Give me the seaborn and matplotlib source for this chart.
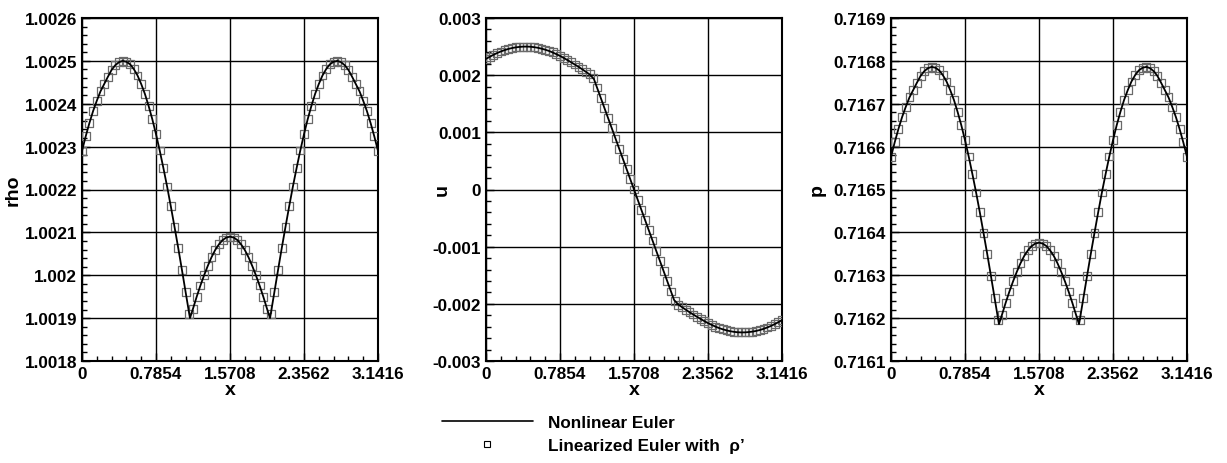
import matplotlib
matplotlib.use('Agg')
import matplotlib.pyplot as plt
import numpy as np
import pandas as pd
import seaborn as sns
from matplotlib.lines import Line2D
from matplotlib.ticker import FixedLocator, AutoMinorLocator, FuncFormatter

sns.set_theme(style='white')
plt.rcParams['font.family'] = ['Liberation Sans', 'DejaVu Sans']
plt.rcParams['font.weight'] = 'bold'
plt.rcParams['axes.labelweight'] = 'bold'
plt.rcParams['axes.unicode_minus'] = False
plt.rcParams['text.color'] = 'black'
plt.rcParams['axes.labelcolor'] = 'black'
plt.rcParams['xtick.color'] = 'black'
plt.rcParams['ytick.color'] = 'black'

# sample positions along x (0 .. pi)
X_MARK = [0.0, 0.03927, 0.07854, 0.11781, 0.15708, 0.19635, 0.23562, 0.27489, 0.31416, 0.35343,
          0.39270, 0.43197, 0.47124, 0.51051, 0.54978, 0.58905, 0.62832, 0.66759, 0.70686, 0.74613,
          0.78540, 0.82467, 0.86394, 0.90321, 0.94248, 0.98175, 1.02102, 1.06029, 1.09956, 1.13883,
          1.17810, 1.21737, 1.25664, 1.29591, 1.33518, 1.37445, 1.41372, 1.45299, 1.49226, 1.53153,
          1.57080, 1.61007, 1.64934, 1.68861, 1.72788, 1.76715, 1.80642, 1.84569, 1.88496, 1.92423,
          1.96350, 2.00277, 2.04204, 2.08131, 2.12058, 2.15984, 2.19911, 2.23838, 2.27765, 2.31692,
          2.35619, 2.39546, 2.43473, 2.47400, 2.51327, 2.55254, 2.59181, 2.63108, 2.67035, 2.70962,
          2.74889, 2.78816, 2.82743, 2.86670, 2.90597, 2.94524, 2.98451, 3.02378, 3.06305, 3.10232,
          3.14159]

RHO_MARK = [1.002290, 1.002324, 1.002355, 1.002383, 1.002407, 1.002429, 1.002446, 1.002463, 1.002479, 1.002490,
            1.002497, 1.002500, 1.002498, 1.002492, 1.002481, 1.002466, 1.002446, 1.002423, 1.002395, 1.002364,
            1.002329, 1.002291, 1.002250, 1.002207, 1.002161, 1.002113, 1.002064, 1.002013, 1.001961, 1.001909,
            1.001922, 1.001950, 1.001976, 1.002000, 1.002022, 1.002042, 1.002059, 1.002072, 1.002082, 1.002088,
            1.002090, 1.002088, 1.002082, 1.002072, 1.002059, 1.002042, 1.002022, 1.002000, 1.001976, 1.001950,
            1.001922, 1.001909, 1.001961, 1.002013, 1.002064, 1.002113, 1.002161, 1.002207, 1.002250, 1.002291,
            1.002329, 1.002364, 1.002395, 1.002423, 1.002446, 1.002466, 1.002481, 1.002492, 1.002498, 1.002500,
            1.002497, 1.002490, 1.002479, 1.002463, 1.002446, 1.002429, 1.002407, 1.002383, 1.002355, 1.002324,
            1.002290]

U_MARK = [0.002285, 0.002321, 0.002356, 0.002387, 0.002414, 0.002438, 0.002458, 0.002474, 0.002486, 0.002494,
          0.002499, 0.002500, 0.002497, 0.002490, 0.002479, 0.002464, 0.002446, 0.002424, 0.002398, 0.002368,
          0.002337, 0.002302, 0.002264, 0.002226, 0.002186, 0.002146, 0.002103, 0.002059, 0.002013, 0.001945,
          0.001784, 0.001606, 0.001427, 0.001249, 0.001071, 0.000892, 0.000714, 0.000535, 0.000357, 0.000178,
          0.0, -0.000178, -0.000357, -0.000535, -0.000714, -0.000892, -0.001071, -0.001249, -0.001427, -0.001606,
          -0.001784, -0.001945, -0.002013, -0.002059, -0.002103, -0.002146, -0.002186, -0.002226, -0.002264, -0.002302,
          -0.002337, -0.002368, -0.002398, -0.002424, -0.002446, -0.002464, -0.002479, -0.002490, -0.002497, -0.002500,
          -0.002499, -0.002494, -0.002486, -0.002474, -0.002458, -0.002438, -0.002414, -0.002387, -0.002356, -0.002321,
          -0.002285]

P_MARK = [0.716576, 0.716610, 0.716641, 0.716669, 0.716693, 0.716715, 0.716732, 0.716749, 0.716765, 0.716776,
          0.716783, 0.716786, 0.716784, 0.716778, 0.716767, 0.716752, 0.716732, 0.716709, 0.716681, 0.716650,
          0.716615, 0.716577, 0.716536, 0.716493, 0.716447, 0.716399, 0.716350, 0.716299, 0.716247, 0.716195,
          0.716208, 0.716236, 0.716262, 0.716286, 0.716308, 0.716328, 0.716345, 0.716358, 0.716368, 0.716374,
          0.716376, 0.716374, 0.716368, 0.716358, 0.716345, 0.716328, 0.716308, 0.716286, 0.716262, 0.716236,
          0.716208, 0.716195, 0.716247, 0.716299, 0.716350, 0.716399, 0.716447, 0.716493, 0.716536, 0.716577,
          0.716615, 0.716650, 0.716681, 0.716709, 0.716732, 0.716752, 0.716767, 0.716778, 0.716784, 0.716786,
          0.716783, 0.716776, 0.716765, 0.716749, 0.716732, 0.716715, 0.716693, 0.716669, 0.716641, 0.716610,
          0.716576]

# kinks of the nonlinear solution
X_CUSP = [1.14600, 1.99559]
RHO_CUSP = [1.001900, 1.001900]
U_CUSP = [0.001930, -0.001930]
P_CUSP = [0.716186, 0.716186]

X_TICKS = [0.0, 0.7854, 1.5708, 2.3562, 3.1416]
X_TICK_LABELS = ['0', '0.7854', '1.5708', '2.3562', '3.1416']
RHO_TICKS = [1.0018, 1.0019, 1.0020, 1.0021, 1.0022, 1.0023, 1.0024, 1.0025, 1.0026]
U_TICKS = [-0.003, -0.002, -0.001, 0.0, 0.001, 0.002, 0.003]
P_TICKS = [0.7161, 0.7162, 0.7163, 0.7164, 0.7165, 0.7166, 0.7167, 0.7168, 0.7169]

marks = pd.DataFrame({'x': X_MARK, 'rho': RHO_MARK, 'u': U_MARK, 'p': P_MARK})
cusps = pd.DataFrame({'x': X_CUSP, 'rho': RHO_CUSP, 'u': U_CUSP, 'p': P_CUSP})
line = pd.concat([marks, cusps]).sort_values('x').reset_index(drop=True)

W, H = 1227, 464
fig = plt.figure(figsize=(W / 100, H / 100), dpi=100)
fig.patch.set_facecolor('white')

panels = [('rho', 82, RHO_TICKS, -0.205),
          ('u', 486, U_TICKS, -0.120),
          ('p', 891, P_TICKS, -0.222)]

fmt = FuncFormatter(lambda v, pos: f"{round(v, 6) + 0.0:g}")

for col, left, yticks, lab_x in panels:
    ax = fig.add_axes([left / W, 1 - 362 / H, 296 / W, 343 / H])
    ax.set_facecolor('white')
    sns.scatterplot(data=marks, x='x', y=col, ax=ax, marker='s', s=32,
                    facecolor='none', edgecolor='#6a6a6a', linewidth=0.9, zorder=3)
    sns.lineplot(data=line, x='x', y=col, ax=ax, color='black', linewidth=1.3,
                 sort=False, estimator=None, zorder=4)

    ax.set_xlim(0, 3.1416)
    ax.set_ylim(yticks[0], yticks[-1])
    ax.xaxis.set_major_locator(FixedLocator(X_TICKS))
    ax.set_xticklabels(X_TICK_LABELS)
    ax.yaxis.set_major_locator(FixedLocator(yticks))
    ax.yaxis.set_major_formatter(fmt)
    ax.xaxis.set_minor_locator(AutoMinorLocator(5))
    ax.yaxis.set_minor_locator(AutoMinorLocator(5))
    ax.tick_params(which='both', direction='in', color='black', width=1.0,
                   top=False, right=False, bottom=True, left=True)
    ax.tick_params(which='major', length=6, labelsize=12.3, pad=3.5, labelcolor='black')
    ax.tick_params(which='minor', length=3.8)
    for t in ax.get_xticklabels() + ax.get_yticklabels():
        t.set_fontweight('bold')

    ax.grid(True, which='major', color='black', linewidth=1.0)
    ax.set_axisbelow(True)
    for s in ax.spines.values():
        s.set_visible(True)
        s.set_color('black')
        s.set_linewidth(1.5)

    ax.set_xlabel('x', fontsize=14, fontweight='bold', labelpad=0, color='black')
    ax.set_ylabel(col, fontsize=14, fontweight='bold', color='black')
    ax.yaxis.set_label_coords(lab_x, 0.5)

handles = [Line2D([], [], color='black', linewidth=1.2),
           Line2D([], [], linestyle='none', marker='s', markersize=4.5,
                  markerfacecolor='white', markeredgecolor='black', markeredgewidth=0.8)]
fig.legend(handles, ['Nonlinear Euler', "Linearized Euler with  \u03c1\u2019"],
           loc='upper left', bbox_to_anchor=(442 / W, 1 - 416 / H),
           frameon=False, prop={'size': 12.3, 'weight': 'bold'},
           handlelength=5.3, handletextpad=0.9, labelspacing=0.45,
           borderpad=0, borderaxespad=0)

fig.savefig('out.png', dpi=100, facecolor='white')
